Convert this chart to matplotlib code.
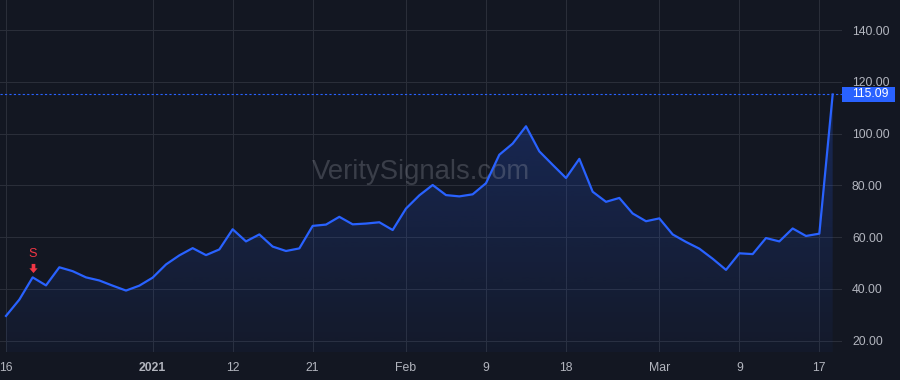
import numpy as np
import matplotlib
matplotlib.use("Agg")
import matplotlib.pyplot as plt
from matplotlib.path import Path
from matplotlib import transforms
from matplotlib.patches import Rectangle

plt.rcParams['font.family'] = ['Liberation Sans', 'DejaVu Sans']

# ---- data (one value per trading day, Dec 16 2020 .. Mar 18 2021) ----
values = [29.5, 35.8, 44.4, 41.3, 48.3, 46.8, 44.4, 43.2, 41.2, 39.3,
          41.2, 44.3, 49.4, 52.9, 55.7, 53.0, 55.2, 63.0, 58.3, 61.0,
          56.3, 54.6, 55.6, 64.3, 64.8, 67.8, 64.9, 65.2, 65.7, 62.7,
          71.0, 76.1, 80.1, 76.2, 75.7, 76.5, 80.8, 91.8, 96.1, 102.8,
          93.1, 87.9, 82.8, 90.2, 77.5, 73.6, 75.1, 69.1, 66.1, 67.2,
          61.0, 58.1, 55.5, 51.6, 47.3, 53.7, 53.4, 59.6, 58.3, 63.3,
          60.4, 61.3, 115.09]
tick_positions = [0, 11, 17, 23, 30, 36, 42, 49, 55, 61]
tick_labels = ['16', '2021', '12', '21', 'Feb', '9', '18', 'Mar', '9', '17']
bold_labels = ['2021']
y_ticks = [20, 40, 60, 80, 100, 120, 140]
signal_index = [2]
signal_text = ['S']
last_price_text = '115.09'
watermark = 'VeritySignals.com'

# ---- style ----
BG = '#131722'
GRID = '#2a2e39'
LINE = '#2962FF'
TXT = '#b2b5be'
RED = '#F23645'

W, H = 900, 380
fig = plt.figure(figsize=(W / 100, H / 100), dpi=100)
fig.patch.set_facecolor(BG)
plot_bottom_px = 352
plot_right_px = 842
ax = fig.add_axes([0, 1 - plot_bottom_px / H, plot_right_px / W, plot_bottom_px / H])
ax.set_facecolor(BG)

x = np.arange(len(values))
v = np.array(values)

ax.set_xlim(-0.45, 62.7)
ax.set_ylim(15.56, 151.6)

for s in ax.spines.values():
    s.set_visible(False)

# grid
ax.set_xticks(tick_positions)
ax.set_yticks(y_ticks)
ax.grid(True, color=GRID, linewidth=0.75)
ax.set_axisbelow(True)

ax.set_xticklabels(tick_labels)
for lab in ax.get_xticklabels():
    lab.set_fontweight('bold' if lab.get_text() in bold_labels else 'normal')
ax.tick_params(axis='x', length=0, pad=7, colors=TXT, labelsize=8.8)
ax.yaxis.tick_right()
ax.set_yticklabels([f'{t:.2f}' for t in y_ticks])
ax.tick_params(axis='y', length=0, pad=7.2, colors=TXT, labelsize=8.8)

# gradient area fill
ymin = ax.get_ylim()[0]
poly = ax.fill_between(x, v, ymin, facecolor='none', edgecolor='none')
top = v.max()
n = 256
grad = np.zeros((n, 1, 4))
rgb = matplotlib.colors.to_rgb(LINE)
grad[:, 0, 0] = rgb[0]
grad[:, 0, 1] = rgb[1]
grad[:, 0, 2] = rgb[2]
grad[:, 0, 3] = np.linspace(0.24, 0.04, n)
im = ax.imshow(grad, aspect='auto', extent=[x[0], x[-1], ymin, top],
               origin='upper', zorder=1, interpolation='bilinear')
clip = poly.get_paths()[0]
im.set_clip_path(clip, transform=ax.transData)

# watermark
ax.text(0.5, 0.51, watermark, transform=ax.transAxes, ha='center', va='center',
        fontsize=19.8, color=TXT, alpha=0.25, zorder=2)

# line
ax.plot(x, v, color=LINE, linewidth=1.6, zorder=3, solid_joinstyle='round')

# last price line and label
ax.axhline(values[-1], color=LINE, linewidth=0.8, linestyle=(0, (2, 2)), zorder=2)
blend = transforms.blended_transform_factory(fig.transFigure, ax.transData)
box_h = 15 / 2.5875
rect = Rectangle((plot_right_px / W, values[-1] - box_h / 2), 53 / W, box_h,
                 transform=blend, facecolor=LINE, edgecolor='none', clip_on=False, zorder=5)
fig.add_artist(rect)
fig.text(852 / W, values[-1], last_price_text, transform=blend, ha='left', va='center',
         color='white', fontsize=8.8, zorder=6)

# signal markers
arrow = Path([(-0.2, 0.5), (0.2, 0.5), (0.2, 0.02), (0.45, 0.02), (0.0, -0.5),
              (-0.45, 0.02), (-0.2, 0.02), (-0.2, 0.5)],
             [Path.MOVETO] + [Path.LINETO] * 6 + [Path.CLOSEPOLY])
off = transforms.offset_copy(ax.transData, fig=fig, x=0, y=9, units='dots')
for idx, txt in zip(signal_index, signal_text):
    ax.plot([x[idx]], [v[idx]], linestyle='none', marker=arrow, markersize=6.6,
            color=RED, markeredgewidth=0, transform=off, zorder=4)
    ax.annotate(txt, xy=(x[idx], v[idx]), xytext=(0, 23 * 0.72),
                textcoords='offset points', ha='center', va='center',
                color=RED, fontsize=9.2, zorder=4)

fig.savefig('out.png', dpi=100, facecolor=BG)
